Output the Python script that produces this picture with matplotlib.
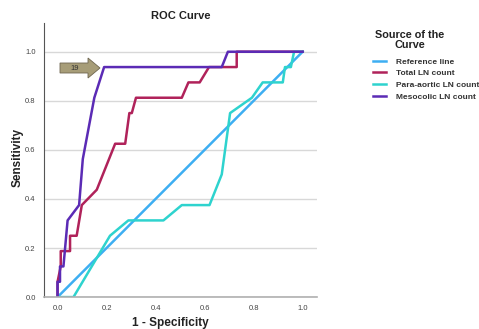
import matplotlib
matplotlib.use("Agg")
import matplotlib.pyplot as plt
from matplotlib.patches import Polygon
from matplotlib.lines import Line2D
from matplotlib.transforms import Affine2D

plt.rcParams['font.family'] = ['Liberation Sans', 'DejaVu Sans']

# ROC curve points (1 - specificity, sensitivity)
ref_x = [0.0, 1.0]
ref_y = [0.0, 1.0]

total_x = [0.0, 0.0, 0.013, 0.013, 0.051, 0.051, 0.078, 0.099, 0.16, 0.235, 0.276,
           0.293, 0.303, 0.32, 0.507, 0.534, 0.58, 0.618, 0.731, 0.731, 1.0]
total_y = [0.0, 0.0625, 0.125, 0.1875, 0.1875, 0.25, 0.25, 0.375, 0.4375, 0.625, 0.625,
           0.75, 0.75, 0.8125, 0.8125, 0.875, 0.875, 0.9375, 0.9375, 1.0, 1.0]

para_x = [0.0, 0.065, 0.214, 0.289, 0.432, 0.507, 0.62, 0.67, 0.704, 0.793, 0.837,
          0.919, 0.928, 0.952, 0.965, 1.0]
para_y = [0.0, 0.0, 0.25, 0.3125, 0.3125, 0.375, 0.375, 0.5, 0.75, 0.8125, 0.875,
          0.875, 0.9375, 0.9375, 1.0, 1.0]

meso_x = [0.0, 0.0, 0.01, 0.01, 0.024, 0.041, 0.088, 0.103, 0.15, 0.19, 0.67, 0.695, 1.0]
meso_y = [0.0, 0.0625, 0.0625, 0.125, 0.125, 0.3125, 0.375, 0.5625, 0.8125, 0.9375,
          0.9375, 1.0, 1.0]

labels = ['Reference line', 'Total LN count', 'Para-aortic LN count', 'Mesocolic LN count']
colors = ['#3DAEF2', '#B0225A', '#2ED3CE', '#5B2BB5']

fig = plt.figure(figsize=(4.79, 3.29), dpi=100)
ax = fig.add_axes([0.092, 0.097, 0.570, 0.833])

ax.plot(ref_x, ref_y, color=colors[0], lw=1.8)
ax.plot(total_x, total_y, color=colors[1], lw=1.8)
ax.plot(para_x, para_y, color=colors[2], lw=1.8)
ax.plot(meso_x, meso_y, color=colors[3], lw=1.8)

ax.set_xlim(-0.055, 1.059)
ax.set_ylim(0, 1.117)
ax.set_xticks([0.0, 0.2, 0.4, 0.6, 0.8, 1.0])
ax.set_yticks([0.0, 0.2, 0.4, 0.6, 0.8, 1.0])
ax.set_xticklabels(['0.0', '0.2', '0.4', '0.6', '0.8', '1.0'])
ax.set_yticklabels(['0.0', '0.2', '0.4', '0.6', '0.8', '1.0'])
ax.tick_params(labelsize=5.5, colors='#444444', length=0, pad=6)
ax.grid(axis='y', color='#D8D8D8', lw=1)
ax.set_axisbelow(True)
for s in ['top', 'right']:
    ax.spines[s].set_visible(False)
ax.spines['left'].set_color('#555555')
ax.spines['bottom'].set_color('#B0B0B0')
ax.spines['left'].set_linewidth(0.8)
ax.spines['bottom'].set_linewidth(1.2)

ax.set_title('ROC Curve', fontsize=8, fontweight='bold', pad=3, color='#222222')
fig.text(0.355, 0.018, '1 - Specificity', fontsize=8.5, fontweight='bold',
         ha='center', va='center', color='#222222')
fig.text(0.037, 0.52, 'Sensitivity', fontsize=8.5, fontweight='bold',
         ha='center', va='center', rotation=90, color='#222222')

# block arrow marking cutoff 19 (pixel coords from top-left)
arrow = Polygon([(60, 63), (88, 63), (88, 58), (100, 68), (88, 78), (88, 73), (60, 73)],
                closed=True, facecolor='#A79D78', edgecolor='#6E6650', lw=0.6)
arrow.set_transform(Affine2D().scale(1, -1).translate(0, 329))
fig.patches.append(arrow)
fig.text(75 / 479, 1 - 68 / 329, '19', fontsize=5.5, ha='center', va='center', color='#333333')

# legend
fig.text(410 / 479, 1 - 40 / 329, 'Source of the\nCurve', fontsize=7.8, fontweight='bold',
         ha='center', va='center', linespacing=1.0, color='#222222')
handles = [Line2D([0], [0], color=c, lw=1.8) for c in colors]
leg = fig.legend(handles, labels, loc='upper left', bbox_to_anchor=(373 / 479, 1 - 58 / 329),
                 frameon=False, fontsize=6, handlelength=1.6, handletextpad=1.2,
                 labelspacing=0.45, borderaxespad=0, borderpad=0)
for t in leg.get_texts():
    t.set_fontweight('bold')
    t.set_color('#333333')

fig.savefig('out.png', dpi=100)
